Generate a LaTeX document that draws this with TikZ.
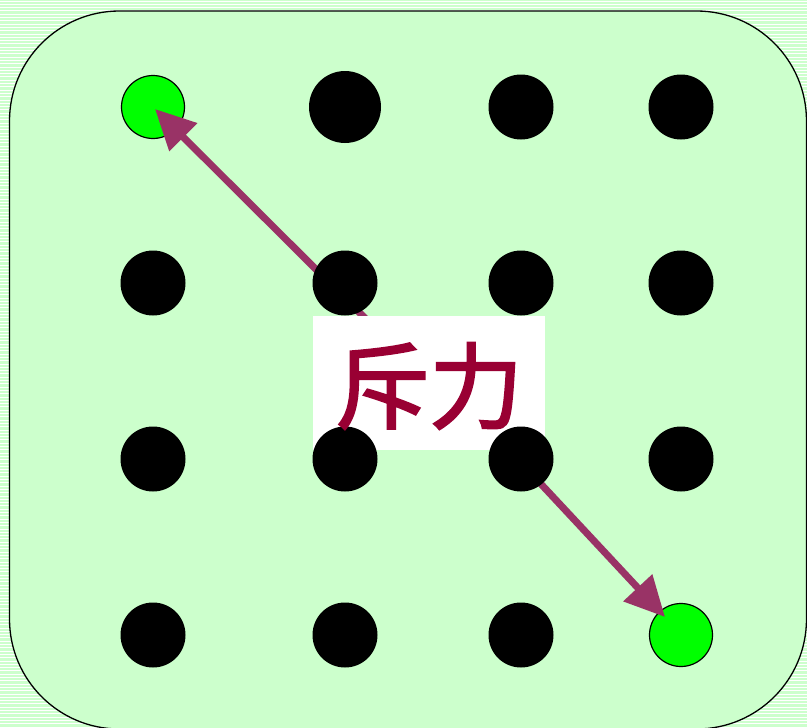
\documentclass[tikz,border=0pt]{standalone}
\usepackage{fontspec}
\newfontfamily\cjk[FakeBold=2.2]{Noto Sans CJK SC}
\usetikzlibrary{arrows.meta}
\definecolor{paleg}{HTML}{CCFFCC}
\definecolor{arrowc}{HTML}{993366}
\definecolor{textc}{HTML}{990033}
\definecolor{brightg}{HTML}{00FF00}
\tikzset{
  blackdot/.style={circle, fill=black, minimum size=65pt, inner sep=0pt},
  greendot/.style={circle, fill=brightg, draw=black, line width=1.2pt, minimum size=63pt, inner sep=0pt},
  force/.style={draw=arrowc, line width=7pt, -{Triangle[length=40pt, width=38pt]}},
}
\begin{document}
\begin{tikzpicture}[x=1pt,y=-1pt]
\useasboundingbox (0,0) rectangle (807,728);
\clip (0,0) rectangle (807,728);
\fill[paleg] (0,0) rectangle (807,728);
\foreach \i in {0,...,220} {
  \draw[white, line width=0.9pt] (0,{1+\i*3.3}) -- (807,{1+\i*3.3});
}
\draw[fill=paleg, line width=1.3pt, rounded corners=110pt] (9.5,11) rectangle (806.5,729);
% green dots
\node[greendot] (g1) at (153,107) {};
\node[greendot] (g2) at (681,635) {};
% arrow anchors
\coordinate (s1) at (400,353);
\coordinate (t1) at (155,109);
\coordinate (s2) at (430,365);
\coordinate (t2) at (665,617);
\draw[force] (s1) -- (t1);
\draw[force] (s2) -- (t2);
% label background
\fill[white] (313,316) rectangle (545,450);
% black dots
\node[blackdot, minimum size=72pt] (d12) at (345,107) {};
\node[blackdot] (d13) at (521,107) {};
\node[blackdot] (d14) at (681,107) {};
\node[blackdot] (d21) at (153,283) {};
\node[blackdot] (d22) at (345,283) {};
\node[blackdot] (d23) at (521,283) {};
\node[blackdot] (d24) at (681,283) {};
\node[blackdot] (d31) at (153,459) {};
\node[blackdot] (d32) at (345,459) {};
\node[blackdot] (d33) at (521,459) {};
\node[blackdot] (d34) at (681,459) {};
\node[blackdot] (d41) at (153,635) {};
\node[blackdot] (d42) at (345,635) {};
\node[blackdot] (d43) at (521,635) {};
% label
\node[text=textc, inner sep=0pt, font=\cjk\fontsize{94}{100}\selectfont] (lbl) at (429,386) {斥力};
\end{tikzpicture}
\end{document}
